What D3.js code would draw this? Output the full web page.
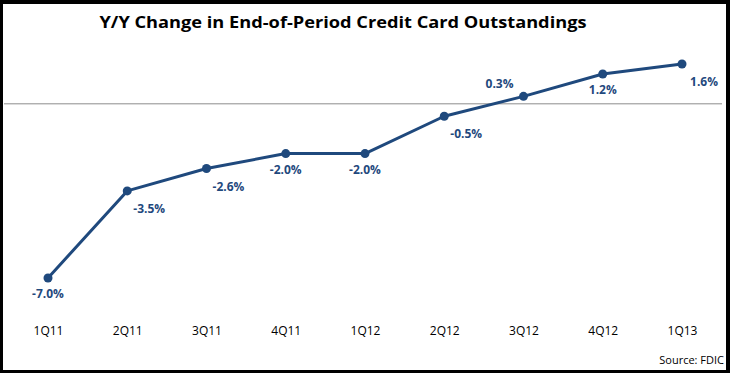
<!DOCTYPE html>
<html>
<head>
<meta charset="utf-8">
<script src="https://cdn.jsdelivr.net/npm/d3@7"></script>
<style>
  body { margin: 0; background: #fff; }
  svg { display: block; font-family: "Open Sans", "DejaVu Sans", sans-serif; }
</style>
</head>
<body>
<div id="chart"></div>
<script>
// data
var quarters = ["1Q11", "2Q11", "3Q11", "4Q11", "1Q12", "2Q12", "3Q12", "4Q12", "1Q13"];
var yoyChange = [-7.0, -3.5, -2.6, -2.0, -2.0, -0.5, 0.3, 1.2, 1.6];
// where each value label sits relative to its point
var labelPos = ["below", "belowRight", "belowRight", "below", "below", "belowRight", "aboveLeft", "below", "belowRight"];

var W = 730, H = 373;
var margin = {top: 64, right: 48, bottom: 95, left: 48},
    width = W - margin.left - margin.right,
    height = H - margin.top - margin.bottom;

var svg = d3.select("#chart")
  .append("svg")
    .attr("width", W)
    .attr("height", H);

// frame
svg.append("rect")
  .attr("x", 0).attr("y", 0).attr("width", W).attr("height", H)
  .attr("fill", "#000");
svg.append("rect")
  .attr("x", 3).attr("y", 4).attr("width", W - 7).attr("height", H - 7)
  .attr("fill", "#fff");

// title
svg.append("text")
  .attr("x", 343).attr("y", 28)
  .attr("text-anchor", "middle")
  .style("font-size", "16px")
  .style("font-weight", "bold")
  .attr("textLength", 487)
  .attr("lengthAdjust", "spacingAndGlyphs")
  .text("Y/Y Change in End-of-Period Credit Card Outstandings");

var g = svg.append("g")
  .attr("transform", `translate(${margin.left}, ${margin.top})`);

var x = d3.scalePoint()
  .domain(quarters)
  .range([0, 634]);

var y = d3.scaleLinear()
  .domain([-7, 1.6])
  .range([214, 0]);

// zero line
g.append("line")
  .attr("x1", 4 - margin.left).attr("x2", 722 - margin.left)
  .attr("y1", y(0)).attr("y2", y(0))
  .attr("stroke", "#8c8c8c")
  .attr("stroke-width", 1);

// category labels
var xAxis = g.append("g")
  .attr("transform", `translate(0, 214)`)
  .call(d3.axisBottom(x).tickSize(0).tickPadding(48));
xAxis.select(".domain").remove();
xAxis.selectAll("text")
  .style("font-size", "12px")
  .style("font-family", "\"Open Sans\", sans-serif")
  .attr("fill", "#000");

var lineColor = "#1f497d";

var line = d3.line()
  .x((d, i) => x(quarters[i]))
  .y(d => y(d));

g.append("path")
  .datum(yoyChange)
  .attr("d", line)
  .attr("fill", "none")
  .attr("stroke", lineColor)
  .attr("stroke-width", 3)
  .attr("stroke-linejoin", "round");

g.selectAll("circle.pt")
  .data(yoyChange)
  .join("circle")
    .attr("class", "pt")
    .attr("cx", (d, i) => x(quarters[i]))
    .attr("cy", d => y(d))
    .attr("r", 4.5)
    .attr("fill", lineColor);

var offsets = {
  below: [0, 20],
  belowRight: [22, 22],
  aboveLeft: [-24, -8]
};

g.selectAll("text.lbl")
  .data(yoyChange)
  .join("text")
    .attr("class", "lbl")
    .attr("x", (d, i) => x(quarters[i]) + offsets[labelPos[i]][0])
    .attr("y", (d, i) => y(d) + offsets[labelPos[i]][1])
    .attr("text-anchor", "middle")
    .attr("fill", lineColor)
    .style("font-size", "12px")
    .style("font-weight", "bold")
    .text(d => d.toFixed(1) + "%");

// source
svg.append("text")
  .attr("x", 724).attr("y", 364)
  .attr("text-anchor", "end")
  .style("font-size", "11px")
  .text("Source: FDIC");
</script>
</body>
</html>
